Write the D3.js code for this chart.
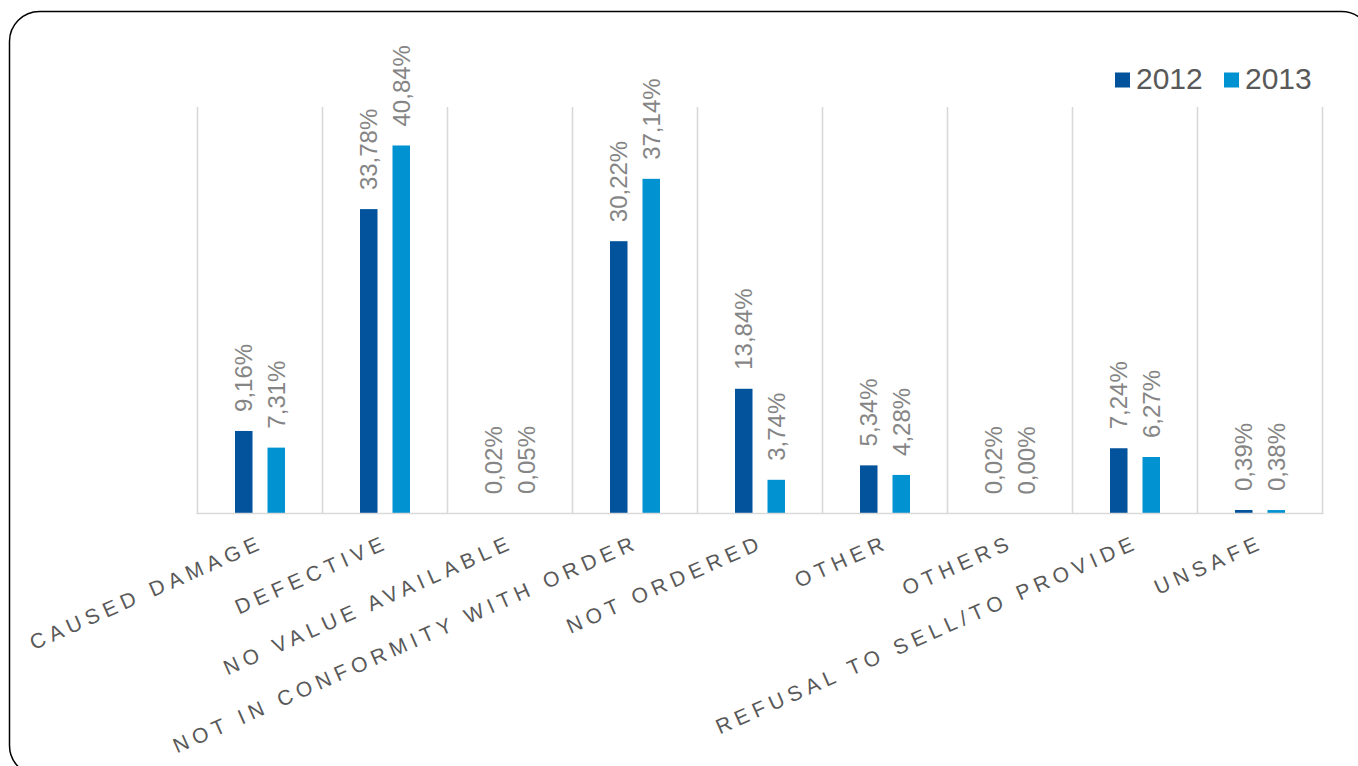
<!DOCTYPE html>
<html>
<head>
<meta charset="utf-8">
<script src="https://cdn.jsdelivr.net/npm/d3@7"></script>
<style>
  html, body { margin: 0; padding: 0; background: #ffffff; }
  svg { display: block; font-family: "Liberation Sans", Arial, sans-serif; }
</style>
</head>
<body>
<svg id="chart" width="1358" height="766"></svg>
<script>
// Complaint categories and their shares per year (percent)
const categories = [
  "CAUSED DAMAGE", "DEFECTIVE", "NO VALUE AVAILABLE", "NOT IN CONFORMITY WITH ORDER",
  "NOT ORDERED", "OTHER", "OTHERS", "REFUSAL TO SELL/TO PROVIDE", "UNSAFE"
];
const years = ["2012", "2013"];
const values2012 = [9.16, 33.78, 0.02, 30.22, 13.84, 5.34, 0.02, 7.24, 0.39];
const values2013 = [7.31, 40.84, 0.05, 37.14, 3.74, 4.28, 0.00, 6.27, 0.38];
const yDomain = [0, 45];

const colors = { "2012": "#02539C", "2013": "#0192D2" };

const svg = d3.select("#chart");

// Rounded frame around the slide
svg.append("rect")
  .attr("x", 9.5).attr("y", 11.5)
  .attr("width", 1362).attr("height", 764)
  .attr("rx", 30).attr("ry", 30)
  .attr("fill", "none")
  .attr("stroke", "#000").attr("stroke-width", 1.5);

const plot = { left: 197.5, right: 1322.5, top: 107, bottom: 513.5 };

const x = d3.scaleBand().domain(categories).range([plot.left, plot.right]);
const xs = d3.scaleBand().domain(years).range([0, x.bandwidth()])
  .paddingInner(15 / 32.5).paddingOuter(37.5 / 32.5);
const y = d3.scaleLinear().domain(yDomain).range([plot.bottom, plot.top + 1]);

const fmt = d3.formatLocale({ decimal: ",", thousands: ".", grouping: [3], currency: ["", "€"] });
const pct = v => fmt.format(".2f")(v) + "%";

// Vertical category separators
const bounds = categories.map(c => x(c)).concat([plot.right]);
svg.append("g").selectAll("line").data(bounds).join("line")
  .attr("x1", d => d).attr("x2", d => d)
  .attr("y1", plot.top).attr("y2", plot.bottom)
  .attr("stroke", "#d9d9d9").attr("stroke-width", 1.6);

const rows = categories.map((c, i) => ({ c, v: { "2012": values2012[i], "2013": values2013[i] } }));

// Bars
const groups = svg.append("g").selectAll("g").data(rows).join("g")
  .attr("transform", d => `translate(${x(d.c)},0)`);

groups.selectAll("rect").data(d => years.map(k => ({ k, v: d.v[k] }))).join("rect")
  .attr("x", d => xs(d.k))
  .attr("width", xs.bandwidth())
  .attr("y", d => y(d.v))
  .attr("height", d => y(0) - y(d.v))
  .attr("fill", d => colors[d.k]);

// Value labels, rotated
groups.selectAll("text").data(d => years.map(k => ({ k, v: d.v[k] }))).join("text")
  .attr("transform", d => `translate(${xs(d.k) + xs.bandwidth() / 2},${y(d.v) - 19}) rotate(-90)`)
  .attr("dy", "0.36em")
  .attr("font-size", 24)
  .attr("fill", "#858585")
  .text(d => pct(d.v));

// Category axis baseline
svg.append("line")
  .attr("x1", plot.left - 1).attr("x2", plot.right + 1)
  .attr("y1", plot.bottom).attr("y2", plot.bottom)
  .attr("stroke", "#d9d9d9").attr("stroke-width", 1.6);

// Category labels, slanted
svg.append("g").selectAll("text").data(categories).join("text")
  .attr("transform", d => `translate(${x(d) + x.bandwidth() / 2 - 1},${plot.bottom + 20}) rotate(-24)`)
  .attr("text-anchor", "end")
  .attr("dy", "0.72em")
  .attr("font-size", 21)
  .attr("letter-spacing", 5.3)
  .attr("fill", "#595959")
  .text(d => d);

// Legend
const legend = svg.append("g");
const legendX = [1115, 1224];
years.forEach((k, i) => {
  legend.append("rect")
    .attr("x", legendX[i]).attr("y", 72.5)
    .attr("width", 15).attr("height", 15)
    .attr("fill", colors[k]);
  legend.append("text")
    .attr("x", legendX[i] + 21).attr("y", 89)
    .attr("font-size", 30)
    .attr("fill", "#595959")
    .text(k);
});
</script>
</body>
</html>
